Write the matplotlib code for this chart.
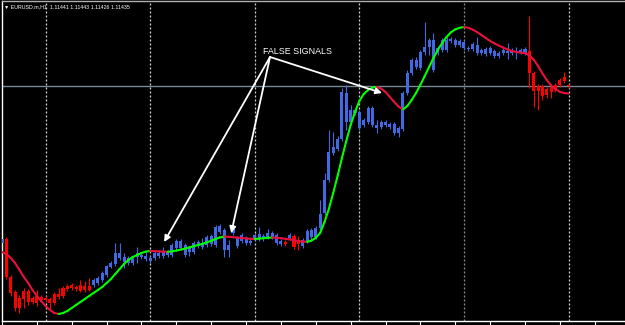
import matplotlib
matplotlib.use("Agg")
import matplotlib.pyplot as plt
from matplotlib.collections import LineCollection
import numpy as np

symbol = "EURUSD.m,H1"

opens = [
    1.10650, 1.10670, 1.10480, 1.10405, 1.10375, 1.10410, 1.10410, 1.10375, 1.10385, 1.10380,
    1.10375, 1.10370, 1.10395, 1.10395, 1.10425, 1.10435, 1.10440, 1.10430, 1.10440, 1.10435,
    1.10435, 1.10440, 1.10450, 1.10465, 1.10490, 1.10530, 1.10545, 1.10575, 1.10555, 1.10550,
    1.10550, 1.10580, 1.10580, 1.10570, 1.10560, 1.10575, 1.10585, 1.10585, 1.10590, 1.10590,
    1.10625, 1.10625, 1.10590, 1.10605, 1.10605, 1.10635, 1.10630, 1.10640, 1.10645, 1.10640,
    1.10705, 1.10615, 1.10615, 1.10700, 1.10635, 1.10660, 1.10650, 1.10650, 1.10675, 1.10670,
    1.10670, 1.10680, 1.10680, 1.10650, 1.10645, 1.10655, 1.10675, 1.10685, 1.10665, 1.10635,
    1.10660, 1.10680, 1.10680, 1.10725, 1.10800, 1.10965, 1.11100, 1.11120, 1.11170, 1.11255,
    1.11255, 1.11300, 1.11225, 1.11240, 1.11255, 1.11240, 1.11225, 1.11230, 1.11240, 1.11230,
    1.11200, 1.11200, 1.11220, 1.11400, 1.11500, 1.11530, 1.11525, 1.11605, 1.11630, 1.11515,
    1.11600, 1.11615, 1.11615, 1.11660, 1.11640, 1.11640, 1.11625, 1.11620, 1.11620, 1.11600,
    1.11600, 1.11595, 1.11600, 1.11585, 1.11585, 1.11600, 1.11600, 1.11600, 1.11600, 1.11605,
    1.11600, 1.11610, 1.11500, 1.11435, 1.11435, 1.11420, 1.11430, 1.11440, 1.11465, 1.11480,
    1.11441,
]
highs = [
    1.10685, 1.10680, 1.10490, 1.10415, 1.10390, 1.10425, 1.10420, 1.10385, 1.10415, 1.10390,
    1.10385, 1.10380, 1.10405, 1.10425, 1.10435, 1.10445, 1.10450, 1.10440, 1.10465, 1.10460,
    1.10475, 1.10475, 1.10485, 1.10510, 1.10540, 1.10560, 1.10650, 1.10650, 1.10600, 1.10585,
    1.10585, 1.10630, 1.10605, 1.10605, 1.10585, 1.10610, 1.10615, 1.10630, 1.10615, 1.10650,
    1.10670, 1.10670, 1.10650, 1.10635, 1.10660, 1.10665, 1.10675, 1.10690, 1.10695, 1.10740,
    1.10745, 1.10725, 1.10665, 1.10740, 1.10685, 1.10700, 1.10685, 1.10670, 1.10700, 1.10730,
    1.10695, 1.10720, 1.10710, 1.10700, 1.10670, 1.10665, 1.10700, 1.10695, 1.10685, 1.10675,
    1.10720, 1.10725, 1.10735, 1.10865, 1.11000, 1.11215, 1.11205, 1.11185, 1.11425, 1.11440,
    1.11340, 1.11325, 1.11315, 1.11275, 1.11335, 1.11335, 1.11265, 1.11265, 1.11265, 1.11255,
    1.11255, 1.11235, 1.11410, 1.11515, 1.11575, 1.11580, 1.11615, 1.11755, 1.11675, 1.11700,
    1.11635, 1.11675, 1.11680, 1.11680, 1.11675, 1.11670, 1.11665, 1.11635, 1.11655, 1.11680,
    1.11625, 1.11630, 1.11635, 1.11620, 1.11610, 1.11625, 1.11650, 1.11625, 1.11630, 1.11625,
    1.11630, 1.11785, 1.11510, 1.11445, 1.11445, 1.11430, 1.11440, 1.11450, 1.11475, 1.11505,
    1.11443,
]
lows = [
    1.10635, 1.10470, 1.10385, 1.10310, 1.10300, 1.10325, 1.10340, 1.10345, 1.10335, 1.10355,
    1.10355, 1.10315, 1.10340, 1.10370, 1.10375, 1.10410, 1.10415, 1.10410, 1.10405, 1.10405,
    1.10410, 1.10430, 1.10440, 1.10455, 1.10480, 1.10525, 1.10535, 1.10565, 1.10525, 1.10540,
    1.10540, 1.10550, 1.10570, 1.10560, 1.10550, 1.10565, 1.10575, 1.10575, 1.10580, 1.10580,
    1.10615, 1.10615, 1.10580, 1.10585, 1.10595, 1.10625, 1.10620, 1.10630, 1.10635, 1.10630,
    1.10695, 1.10580, 1.10580, 1.10690, 1.10625, 1.10650, 1.10640, 1.10640, 1.10665, 1.10660,
    1.10660, 1.10670, 1.10670, 1.10640, 1.10635, 1.10635, 1.10665, 1.10620, 1.10615, 1.10625,
    1.10650, 1.10670, 1.10670, 1.10715, 1.10790, 1.10955, 1.11090, 1.11110, 1.11160, 1.11215,
    1.11245, 1.11290, 1.11215, 1.11230, 1.11245, 1.11230, 1.11200, 1.11220, 1.11230, 1.11220,
    1.11190, 1.11180, 1.11210, 1.11390, 1.11490, 1.11520, 1.11515, 1.11590, 1.11590, 1.11505,
    1.11590, 1.11605, 1.11605, 1.11650, 1.11630, 1.11630, 1.11615, 1.11610, 1.11610, 1.11590,
    1.11590, 1.11585, 1.11590, 1.11575, 1.11575, 1.11590, 1.11570, 1.11590, 1.11570, 1.11595,
    1.11590, 1.11425, 1.11330, 1.11315, 1.11365, 1.11375, 1.11375, 1.11405, 1.11430, 1.11450,
    1.11426,
]
closes = [
    1.10670, 1.10480, 1.10400, 1.10325, 1.10325, 1.10370, 1.10355, 1.10355, 1.10350, 1.10365,
    1.10365, 1.10350, 1.10350, 1.10380, 1.10385, 1.10420, 1.10425, 1.10420, 1.10410, 1.10415,
    1.10415, 1.10465, 1.10475, 1.10500, 1.10535, 1.10550, 1.10600, 1.10600, 1.10580, 1.10575,
    1.10575, 1.10600, 1.10590, 1.10585, 1.10575, 1.10600, 1.10600, 1.10605, 1.10605, 1.10640,
    1.10660, 1.10660, 1.10640, 1.10625, 1.10650, 1.10655, 1.10650, 1.10680, 1.10685, 1.10730,
    1.10735, 1.10715, 1.10640, 1.10730, 1.10675, 1.10690, 1.10675, 1.10660, 1.10690, 1.10695,
    1.10685, 1.10700, 1.10700, 1.10690, 1.10660, 1.10645, 1.10690, 1.10630, 1.10645, 1.10665,
    1.10710, 1.10715, 1.10725, 1.10795, 1.10965, 1.11105, 1.11130, 1.11170, 1.11405, 1.11400,
    1.11315, 1.11315, 1.11305, 1.11265, 1.11325, 1.11325, 1.11240, 1.11255, 1.11255, 1.11245,
    1.11245, 1.11225, 1.11400, 1.11500, 1.11565, 1.11565, 1.11605, 1.11630, 1.11665, 1.11665,
    1.11625, 1.11665, 1.11665, 1.11670, 1.11665, 1.11660, 1.11655, 1.11625, 1.11645, 1.11640,
    1.11615, 1.11620, 1.11625, 1.11610, 1.11600, 1.11615, 1.11610, 1.11615, 1.11610, 1.11615,
    1.11620, 1.11500, 1.11410, 1.11410, 1.11385, 1.11390, 1.11405, 1.11415, 1.11440, 1.11460,
    1.11435,
]
# smoothed trend indicator (green while rising, red while falling)
trend_line = [
    1.10605, 1.10595, 1.10575, 1.10550, 1.10515, 1.10480, 1.10450, 1.10415, 1.10385, 1.10360,
    1.10335, 1.10315, 1.10300, 1.10295, 1.10300, 1.10310, 1.10325, 1.10340, 1.10355, 1.10370,
    1.10385, 1.10400, 1.10415, 1.10430, 1.10450, 1.10470, 1.10495, 1.10520, 1.10545, 1.10565,
    1.10580, 1.10590, 1.10600, 1.10607, 1.10610, 1.10609, 1.10608, 1.10607, 1.10606, 1.10608,
    1.10612, 1.10617, 1.10622, 1.10628, 1.10634, 1.10640, 1.10646, 1.10653, 1.10661, 1.10670,
    1.10678, 1.10682, 1.10681, 1.10679, 1.10677, 1.10675, 1.10673, 1.10671, 1.10670, 1.10672,
    1.10674, 1.10676, 1.10677, 1.10676, 1.10674, 1.10671, 1.10668, 1.10664, 1.10660, 1.10657,
    1.10656, 1.10662, 1.10676, 1.10700, 1.10755, 1.10820, 1.10900, 1.10985, 1.11075, 1.11160,
    1.11240, 1.11305, 1.11360, 1.11395, 1.11415, 1.11427, 1.11430, 1.11422, 1.11405, 1.11380,
    1.11355, 1.11332, 1.11318, 1.11335, 1.11365, 1.11400, 1.11440, 1.11485, 1.11530, 1.11575,
    1.11615, 1.11650, 1.11680, 1.11703, 1.11718, 1.11726, 1.11730, 1.11726, 1.11717, 1.11705,
    1.11690, 1.11675, 1.11660, 1.11648, 1.11637, 1.11627, 1.11618, 1.11610, 1.11605, 1.11602,
    1.11599, 1.11588, 1.11567, 1.11535, 1.11498, 1.11465, 1.11438, 1.11419, 1.11406, 1.11400,
    1.11397,
]
separator_bars = [10, 34, 58, 82, 106, 130]
dark_separator_bars = [106]
time_tick_bars = list(range(0, 140, 8))
annotation_text = "FALSE SIGNALS"
annotation_origin = (61.5, 1.11580)
annotation_targets = [(37.2, 1.10655), (52.6, 1.10700), (87.2, 1.11400)]

# ---------------------------------------------------------------
BG = "black"
BULL = "#4169e1"
BEAR = "#ff0000"
UP_LINE = "#00ff00"
DOWN_LINE = "#e8103c"

n = len(closes)
x = np.arange(n)
o = np.array(opens); h = np.array(highs); l = np.array(lows); c = np.array(closes)

fig = plt.figure(figsize=(6.25, 3.25), dpi=100, facecolor=BG)
ax = fig.add_axes([2 / 625, 4 / 325, 623 / 625, 320 / 325], facecolor=BG)
ax.set_xlim(0.07, 142.95)
ax.set_ylim(1.10260, 1.11860)

# separators
for b in separator_bars:
    col = "#8a8a8a" if b in dark_separator_bars else "#d0d0d0"
    ax.axvline(b, color=col, lw=0.9, ls=(0, (1.6, 1.6)), zorder=1)

# bid line
ax.axhline(closes[-1], color="#778899", lw=1.0, zorder=1.5)

# candles
colors = [BULL if cc >= oo else BEAR for oo, cc in zip(o, c)]
ax.vlines(x, l, h, colors=colors, lw=0.8, zorder=2)
body_bottom = np.minimum(o, c)
body_h = np.maximum(np.abs(c - o), 0.00004)
ax.bar(x, body_h, bottom=body_bottom, width=0.7, color=colors, linewidth=0, zorder=3)

# trend indicator
tl = np.array(trend_line)
pts = np.column_stack([x, tl])
segs = np.stack([pts[:-1], pts[1:]], axis=1)
seg_cols = []
prev = DOWN_LINE
for i in range(n - 1):
    if tl[i + 1] > tl[i]:
        prev = UP_LINE
    elif tl[i + 1] < tl[i]:
        prev = DOWN_LINE
    seg_cols.append(prev)
lc = LineCollection(segs, colors=seg_cols, linewidths=1.5, zorder=4, capstyle="round")
ax.add_collection(lc)

# annotation
ax.text(59.9, 1.11595, annotation_text, color="white", fontsize=6.4,
        family="Liberation Sans", ha="left", va="baseline", zorder=6)
for tx, ty in annotation_targets:
    ax.annotate("", xy=(tx, ty), xytext=annotation_origin,
                arrowprops=dict(arrowstyle="-|>", color="white", lw=1.3,
                                mutation_scale=9, shrinkA=0, shrinkB=0),
                zorder=6)

# header
hdr = "▼ {}  {:.5f} {:.5f} {:.5f} {:.5f}".format(symbol, opens[-1], highs[-1], lows[-1], closes[-1])
fig.text(4 / 625, 1 - 8 / 325, hdr, color="white", fontsize=3.8,
         family=["Liberation Sans", "DejaVu Sans"], ha="left", va="baseline")

# frame and ticks
for side in ["left", "bottom"]:
    ax.spines[side].set_color("white")
    ax.spines[side].set_linewidth(1.0)
ax.spines["top"].set_color("#b0b0b0")
ax.spines["top"].set_linewidth(1.0)
ax.spines["right"].set_visible(False)
ax.set_xticks(time_tick_bars)
ax.set_xticklabels([])
ax.tick_params(axis="x", colors="white", length=3, width=0.8, direction="out")
ax.set_yticks([])

fig.savefig("out.png", dpi=100, facecolor=BG)
